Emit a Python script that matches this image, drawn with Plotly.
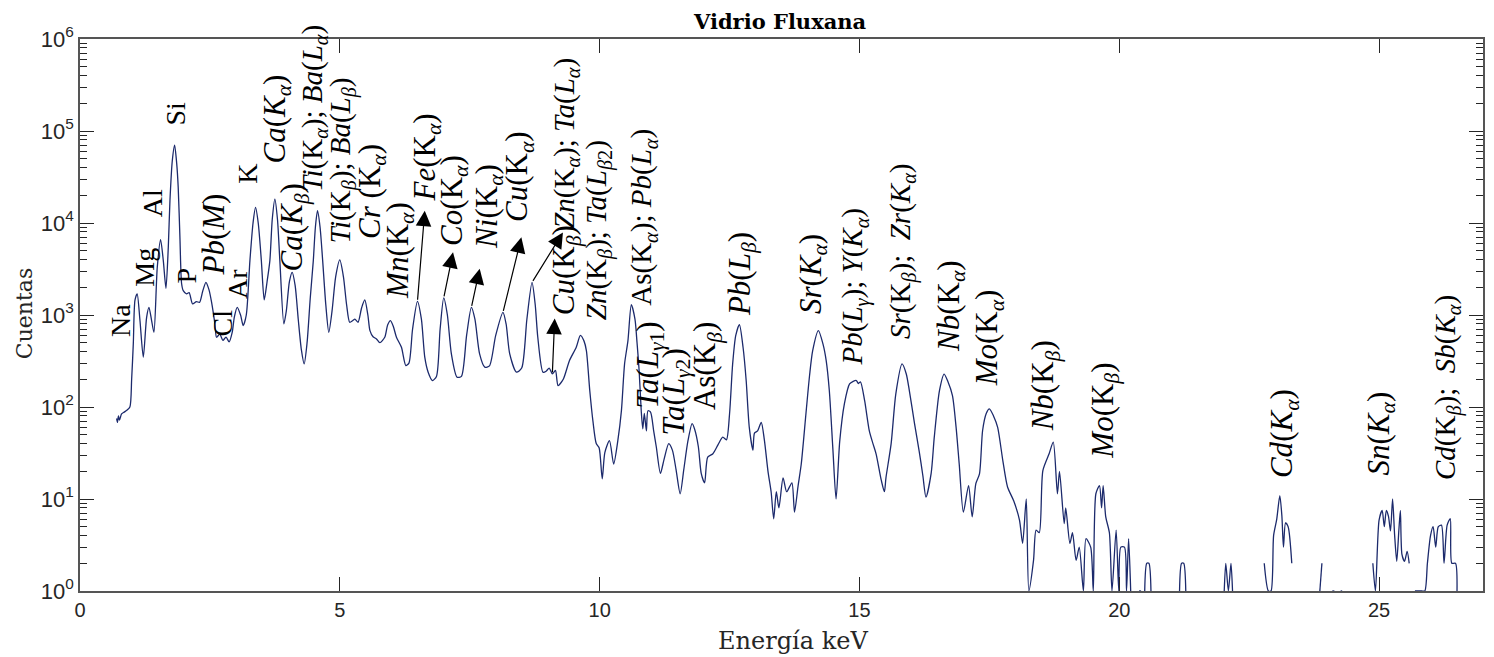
import math
import plotly.graph_objects as go

# ---------------- data ----------------
energy_kev = [
    0.705, 0.72, 0.74, 0.76, 0.80, 0.85, 0.90, 0.96, 0.994, 1.026, 1.058, 1.10, 1.154, 1.218, 1.282,
    1.327, 1.378, 1.423, 1.487, 1.551, 1.603, 1.654, 1.699, 1.731, 1.776, 1.821, 1.86, 1.89, 1.923,
    1.955, 1.987, 2.05, 2.10, 2.167, 2.24, 2.30, 2.36, 2.423, 2.48, 2.53, 2.596, 2.628, 2.69, 2.75,
    2.81, 2.87, 2.93, 2.97, 3.026, 3.09, 3.141, 3.20, 3.27, 3.33, 3.378, 3.43, 3.49, 3.545, 3.60,
    3.654, 3.70, 3.75, 3.80, 3.846, 3.923, 3.97, 4.03, 4.083, 4.14, 4.20, 4.26, 4.314, 4.37, 4.43,
    4.49, 4.53, 4.571, 4.62, 4.67, 4.73, 4.788, 4.85, 4.92, 5.00, 5.07, 5.13, 5.19, 5.25, 5.29,
    5.35, 5.42, 5.48, 5.54, 5.58, 5.64, 5.705, 5.77, 5.865, 5.92, 5.974, 6.03, 6.09, 6.186, 6.27,
    6.33, 6.40, 6.494, 6.57, 6.635, 6.70, 6.782, 6.86, 6.93, 7.00, 7.07, 7.147, 7.256, 7.34, 7.44,
    7.532, 7.60, 7.69, 7.79, 7.88, 8.00, 8.14, 8.20, 8.27, 8.40, 8.50, 8.60, 8.699, 8.76, 8.81,
    8.91, 8.97, 9.03, 9.09, 9.15, 9.20, 9.30, 9.42, 9.55, 9.63, 9.70, 9.745, 9.81, 9.87, 9.935,
    9.99, 10.05, 10.10, 10.19, 10.27, 10.35, 10.42, 10.48, 10.545, 10.61, 10.68, 10.72, 10.76,
    10.80, 10.83, 10.86, 10.90, 10.93, 10.98, 11.04, 11.09, 11.17, 11.24, 11.33, 11.40, 11.47,
    11.55, 11.62, 11.70, 11.78, 11.83, 11.90, 11.955, 12.02, 12.08, 12.18, 12.28, 12.37, 12.44,
    12.50, 12.56, 12.62, 12.69, 12.76, 12.82, 12.88, 12.95, 12.98, 13.04, 13.11, 13.17, 13.24,
    13.30, 13.35, 13.40, 13.45, 13.53, 13.60, 13.70, 13.75, 13.82, 13.88, 13.97, 14.04, 14.10,
    14.21, 14.30, 14.36, 14.42, 14.49, 14.55, 14.62, 14.71, 14.81, 14.88, 14.94, 14.98, 15.02,
    15.10, 15.19, 15.26, 15.32, 15.42, 15.48, 15.51, 15.61, 15.70, 15.82, 15.90, 15.96, 16.06,
    16.15, 16.22, 16.28, 16.38, 16.44, 16.54, 16.63, 16.70, 16.79, 16.86, 16.92, 17.00, 17.10,
    17.17, 17.24, 17.31, 17.37, 17.44, 17.50, 17.58, 17.66, 17.76, 17.85, 17.97, 18.08, 18.14,
    18.21, 18.26, 18.35, 18.40, 18.46, 18.53, 18.65, 18.73, 18.81, 18.85, 18.94, 18.97, 19.05,
    19.10, 19.17, 19.23, 19.31, 19.36, 19.45, 19.50, 19.55, 19.62, 19.66, 19.69, 19.74, 19.81,
    19.86, 19.94, 19.99, 20.03, 20.10, 20.14, 20.18, 20.22, 20.30, 20.38, 20.42, 20.45, 20.49,
    20.53, 20.57, 20.61, 20.65, 21.16, 21.20, 21.24, 21.28, 21.32, 22.02, 22.05, 22.10, 22.15,
    22.18, 22.22, 22.79, 22.87, 22.92, 22.97, 23.03, 23.09, 23.13, 23.16, 23.20, 23.25, 23.32,
    23.36, 23.86, 23.90, 23.93, 24.10, 24.14, 24.18, 24.26, 24.29, 24.33, 24.88, 24.93, 25.00,
    25.06, 25.10, 25.14, 25.18, 25.22, 25.26, 25.30, 25.34, 25.38, 25.41, 25.44, 25.49, 25.54,
    25.58, 25.62, 25.69, 25.82, 25.88, 25.93, 25.99, 26.04, 26.09, 26.14, 26.20, 26.25, 26.31,
    26.37, 26.40, 26.47, 26.50,
]

counts = [
    75, 68, 80, 72, 84, 88, 92, 100, 200, 490, 1450, 1700, 870, 348, 944,
    1213, 870, 649, 3300, 6590, 3900, 1950, 5430, 17470, 47500, 70300, 45000, 24400, 6980,
    2200, 1840, 1700, 1750, 1320, 1400, 1370, 1800, 2265, 1900, 1400, 800, 573, 620, 530,
    575, 510, 650, 950, 1213, 1000, 767, 1000, 3900, 10000, 14760, 10000, 3900, 1459, 2300,
    3900, 11000, 18200, 11000, 3900, 800, 1100, 2300, 2910, 2100, 900, 420, 294, 500, 1500,
    3900, 9000, 13600, 9000, 3900, 1300, 649, 1100, 2600, 3965, 2600, 1300, 834, 870, 900,
    834, 1200, 1459, 1000, 677, 580, 550, 500, 573, 780, 869, 750, 573, 446, 282,
    300, 700, 1409, 900, 348, 239, 194, 215, 700, 1535, 1000, 378, 211, 215, 600,
    1213, 900, 378, 271, 280, 600, 1070, 800, 378, 239, 265, 900, 2265, 1300, 573,
    239, 245, 265, 229, 250, 171, 200, 320, 446, 600, 520, 410, 151, 71, 40,
    36, 16.6, 32, 43, 24, 43, 92, 294, 527, 1297, 900, 500, 249,
    92, 58, 85, 55, 91, 88, 55, 37, 19, 27, 40, 34, 21,
    11.4, 21, 43, 66, 57, 37, 19, 15, 28.5, 31, 39, 47, 44,
    84, 294, 600, 787, 446, 194, 60, 34, 52, 55, 68, 44, 20,
    12, 6.1, 12, 8, 17, 12, 15, 7.2, 14, 24, 84, 220, 410,
    677, 480, 320, 151, 34, 10, 42, 108, 178, 190, 194, 180, 188,
    117, 55, 40, 31, 16, 12, 17, 40, 139, 294, 230, 151, 66,
    33, 18, 10.5, 19, 47, 151, 228, 190, 133, 60, 24, 7.2, 14,
    6.4, 14.7, 18.8, 55.5, 85, 95.6, 80, 60, 26, 13.5, 9.5, 5.9, 3.3,
    10, 1, 2.15, 4.6, 4.3, 20.4, 31, 41.5, 11.4, 20, 5.4, 8, 3.3,
    4.3, 2.15, 3, 1, 3.7, 3, 1, 11.4, 14, 8, 14, 6.4, 4.3,
    1, 4.6, 1, 3, 3, 1, 3.7, 1, None, 1, 1, None, 1,
    2, 2, 1, None, 1, 2, 2, 1, None, 1, 2, 1, 2,
    1, None, 2, 1, 1, 4, 6, 10.9, 6.5, 3, 5.5, 5, 2,
    None, 1, 2, None, 1, 1, None, 1, 1, None, 2, 1, 5.9,
    7.5, 5, 7.5, 6.5, 4.5, 10, 4, 2.1, 4.5, 7.5, 2.5, 2.1, 2.7,
    2, None, 1, 1, 1, 2, 4, 5, 3, 5, 5.2, 2, 5.2,
    6.1, 2, 2, 1,
]

x_ticks = [0, 5, 10, 15, 20, 25]
y_ticks = [1, 10, 100, 1000, 10000, 100000, 1000000]
y_tick_labels = ["10<sup>0</sup>", "10<sup>1</sup>", "10<sup>2</sup>", "10<sup>3</sup>",
                 "10<sup>4</sup>", "10<sup>5</sup>", "10<sup>6</sup>"]
y_minor_ticks = [m * 10 ** e for e in range(6) for m in range(2, 10)]

# peak labels
label_texts = [
    "Na", "Mg", "Al", "Si", "P", "<i>Pb</i>(<i>M</i>)", "Cl", "Ar", "K",
    "<i>Ca</i>(<i>K</i><sub><i>α</i></sub>)",
    "<i>Ca</i>(<i>K</i><sub><i>β</i></sub>)",
    "<i>Ti</i>(K<sub><i>α</i></sub>); <i>Ba</i>(<i>L</i><sub><i>α</i></sub>)",
    "<i>Ti</i>(K<sub><i>β</i></sub>); <i>Ba</i>(<i>L</i><sub><i>β</i></sub>)",
    "<i>Cr</i> (K<sub><i>α</i></sub>)",
    "<i>Mn</i>(K<sub><i>α</i></sub>)",
    "<i>Fe</i>(K<sub><i>α</i></sub>)",
    "<i>Co</i>(K<sub><i>α</i></sub>)",
    "<i>Ni</i>(K<sub><i>α</i></sub>)",
    "<i>Cu</i>(K<sub><i>α</i></sub>)",
    "<i>Zn</i>(K<sub><i>α</i></sub>); <i>Ta</i>(<i>L</i><sub><i>α</i></sub>)",
    "<i>Cu</i>(K<sub><i>β</i></sub>)",
    "<i>Zn</i>(K<sub><i>β</i></sub>); <i>Ta</i>(<i>L</i><sub><i>β</i>2</sub>)",
    "As(K<sub><i>α</i></sub>); <i>Pb</i>(<i>L</i><sub><i>α</i></sub>)",
    "<i>Ta</i>(<i>L</i><sub><i>γ</i>1</sub>)",
    "<i>Ta</i>(<i>L</i><sub><i>γ</i>2</sub>)",
    "As(K<sub><i>β</i></sub>)",
    "<i>Pb</i>(<i>L</i><sub><i>β</i></sub>)",
    "<i>Sr</i>(<i>K</i><sub><i>α</i></sub>)",
    "<i>Pb</i>(<i>L</i><sub><i>γ</i></sub>); <i>Y</i>(<i>K</i><sub><i>α</i></sub>)",
    "<i>Sr</i>(K<sub><i>β</i></sub>);  <i>Zr</i>(<i>K</i><sub><i>α</i></sub>)",
    "<i>Nb</i>(K<sub><i>α</i></sub>)",
    "<i>Mo</i>(K<sub><i>α</i></sub>)",
    "<i>Nb</i>(K<sub><i>β</i></sub>)",
    "<i>Mo</i>(K<sub><i>β</i></sub>)",
    "<i>Cd</i>(<i>K</i><sub><i>α</i></sub>)",
    "<i>Sn</i>(<i>K</i><sub><i>α</i></sub>)",
    "<i>Cd</i>(K<sub><i>β</i></sub>);  <i>Sb</i>(<i>K</i><sub><i>α</i></sub>)",
]
label_x = [0.769, 1.225, 1.394, 1.842, 2.058, 2.577, 2.74, 3.029, 3.231,
           3.783, 4.115, 4.50, 5.058, 5.615, 6.154, 6.673, 7.192, 7.865, 8.462,
           9.365, 9.346, 9.98, 10.846, 10.96, 11.46, 12.058, 12.73, 14.096,
           14.904, 15.827, 16.75, 17.50, 18.577, 19.73, 23.173, 25.04, 26.327]
label_logy = [2.744, 3.287, 4.045, 5.035, 3.319, 3.406, 2.744, 3.156, 4.405,
              4.626, 3.45, 4.318, 3.753, 3.808, 3.156, 4.209, 3.732, 3.699, 3.992,
              3.916, 2.972, 2.917, 3.08, 1.962, 1.669, 1.94, 2.972, 2.993,
              2.429, 2.722, 2.581, 2.201, 1.712, 1.419, 1.202, 1.235, 1.18]

# arrows: tail at a spectrum peak (energy), head near its label
arrow_tail_kev = [6.494, 7.00, 7.532, 8.14, 8.699, 9.09]
arrow_head_kev = [6.635, 7.179, 7.692, 8.494, 9.294, 9.135]
arrow_head_logy = [4.134, 3.681, 3.504, 3.844, 3.898, 2.961]

# ---------------- figure ----------------
LINE_COL = "#1c2a6c"
AX_COL = "#555555"
TXT_COL = "#262626"

# page body has an 8px margin: figure is sized/margined so the plot area lands
# at page pixels x 80..1483, y 39..591
FIG_W, FIG_H = 1486, 649

fig = go.Figure()
fig.add_trace(go.Scatter(
    x=energy_kev, y=counts, mode="lines",
    line=dict(color=LINE_COL, width=1.3, shape="spline", smoothing=0.7),
    connectgaps=False, hoverinfo="skip",
))

annotations = []
for txt, lx, ly in zip(label_texts, label_x, label_logy):
    plain = "<" not in txt
    compound = ";" in txt
    annotations.append(dict(
        text=txt, x=lx, y=ly, xref="x", yref="y", showarrow=False,
        textangle=-90, xanchor="center", yanchor="bottom",
        font=dict(family="Liberation Serif",
                  size=28 if plain else (29 if compound else 31), color="black"),
    ))

for tk, hk, hy in zip(arrow_tail_kev, arrow_head_kev, arrow_head_logy):
    ty = counts[energy_kev.index(tk)]
    annotations.append(dict(
        text="", x=hk, y=hy, xref="x", yref="y",
        ax=tk, ay=math.log10(ty), axref="x", ayref="y",
        showarrow=True, arrowhead=2, arrowsize=2.6, arrowwidth=1.2,
        arrowcolor="black", standoff=0, startstandoff=0,
    ))

# axis titles
annotations.append(dict(
    text="Energía keV", xref="paper", yref="paper", x=0.508, y=-(641 - 591) / 552,
    xanchor="center", yanchor="middle", showarrow=False,
    font=dict(family="DejaVu Serif", size=24, color=TXT_COL),
))
annotations.append(dict(
    text="Cuentas", xref="paper", yref="paper", x=-0.039, y=0.502,
    xanchor="center", yanchor="middle", showarrow=False, textangle=-90,
    font=dict(family="DejaVu Serif", size=22, color=TXT_COL),
))

fig.update_layout(
    width=FIG_W, height=FIG_H,
    margin=dict(l=72, r=11, t=31, b=66),
    paper_bgcolor="white", plot_bgcolor="white",
    showlegend=False,
    title=dict(text="<b>Vidrio Fluxana</b>", x=0.499, xref="paper", xanchor="center",
               y=1 - 14 / FIG_H, yref="container", yanchor="middle",
               font=dict(family="DejaVu Serif", size=21, color="black")),
    annotations=annotations,
    xaxis=dict(
        range=[0, 27], tickmode="array", tickvals=x_ticks,
        ticks="inside", ticklen=14, tickwidth=1, tickcolor=TXT_COL,
        showline=True, linecolor=AX_COL, linewidth=1.5, mirror="ticks",
        showgrid=False, zeroline=False, automargin=False,
        tickfont=dict(family="Liberation Sans", size=20, color=TXT_COL),
    ),
    yaxis=dict(
        type="log", range=[0, 6], tickmode="array", tickvals=y_ticks, ticktext=y_tick_labels,
        ticks="inside", ticklen=14, tickwidth=1, tickcolor=TXT_COL,
        minor=dict(tickmode="array", tickvals=y_minor_ticks, ticks="inside", ticklen=7,
                   tickwidth=1, tickcolor=TXT_COL, showgrid=False),
        showline=True, linecolor=AX_COL, linewidth=1.5, mirror="ticks",
        showgrid=False, zeroline=False, automargin=False,
        tickfont=dict(family="Liberation Sans", size=22, color=TXT_COL),
    ),
)

fig.write_html("out.html")
